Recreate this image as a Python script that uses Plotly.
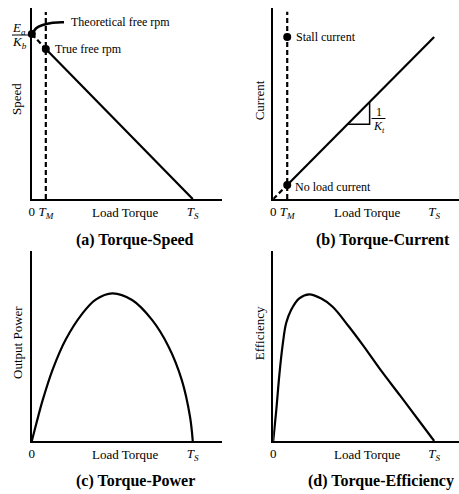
import plotly.graph_objects as go
import numpy as np

W, H = 459, 494
FONT = "Liberation Serif"

# ---------------- data (x = load torque as fraction of stall torque T_S) ----------------
T_S = 1.0
T_M = 0.087

# (a) Torque-Speed
speed_true_T = [T_M, T_S]
speed_true = [78.5, 0.0]
speed_theo_T = [0.0, T_M]
speed_theo = [86.4, 78.5]
theo_leader_x = [0.002, 0.027, 0.068, 0.13, 0.20]
theo_leader_y = [86.2, 89.4, 91.1, 92.3, 92.5]

# (b) Torque-Current
current_T = [T_M, T_S]
current_vals = [7.3, 84.8]
current_dash_T = [0.0, T_M]
current_dash = [0.0, 7.3]
stall_current = 84.8
slope_tri_x = [0.462, 0.599]

# (c) Torque-Power
power_T = [0.0, 0.027, 0.068, 0.13, 0.21, 0.315, 0.397, 0.5, 0.623, 0.747, 0.85, 0.932, 0.983, 1.0]
power_vals = [0.0, 8.8, 21.5, 37.5, 53.0, 66.8, 74.0, 77.3, 73.8, 63.4, 49.4, 31.9, 12.7, 0.0]

# (d) Torque-Efficiency
eff_T = [0.0, 0.019, 0.039, 0.06, 0.08, 0.111, 0.162, 0.224, 0.296, 0.369, 0.471, 0.556, 0.667, 0.79, 0.914, 1.0]
eff_vals = [0.0, 16.2, 35.4, 51.2, 61.6, 68.6, 74.7, 76.8, 74.7, 70.3, 59.8, 50.3, 37.2, 23.6, 9.7, 0.0]

# ---------------- figure ----------------
fig = go.Figure()
LW = 2.2
DASH = "5px,3px"

def line(x, y, ax, dash=None, width=LW):
    fig.add_trace(go.Scatter(x=x, y=y, mode="lines", xaxis="x" + ax, yaxis="y" + ax,
                             line=dict(color="black", width=width, dash=dash, shape="spline" if len(x) > 3 else "linear"),
                             cliponaxis=False, hoverinfo="skip", showlegend=False))

def dot(x, y, ax):
    fig.add_trace(go.Scatter(x=x, y=y, mode="markers", xaxis="x" + ax, yaxis="y" + ax,
                             marker=dict(color="black", size=8), cliponaxis=False,
                             hoverinfo="skip", showlegend=False))

# (a)
line(speed_true_T, speed_true, "")
line(speed_theo_T, speed_theo, "", dash=DASH)
line([T_M, T_M], [0, 97.9], "", dash=DASH)
line(theo_leader_x, theo_leader_y, "", width=2.6)
dot([speed_theo_T[0], T_M], [speed_theo[0], speed_true[0]], "")

# (b)
line(current_T, current_vals, "2")
line(current_dash_T, current_dash, "2", dash=DASH)
line([T_M, T_M], [0, 98.0], "2", dash=DASH)
slope = (current_vals[1] - current_vals[0]) / (current_T[1] - current_T[0])
tri_y0 = current_vals[0] + (slope_tri_x[0] - T_M) * slope
tri_y1 = current_vals[0] + (slope_tri_x[1] - T_M) * slope
line([slope_tri_x[0], slope_tri_x[1], slope_tri_x[1]], [tri_y0, tri_y0, tri_y1], "2", width=1.5)
dot([T_M, T_M], [stall_current, current_vals[0]], "2")

# (c)
line(power_T, power_vals, "3")
# (d)
line(eff_T, eff_vals, "4")

ax_common = dict(showline=True, linecolor="black", linewidth=1.6, showgrid=False, zeroline=False,
                 ticks="", fixedrange=True, tickfont=dict(family=FONT, size=13, color="black"))
ts_txt = "<i>T</i><sub><i>S</i></sub>"
tm_txt = "<i>T</i><sub><i>M</i></sub>"

def xd(p0, p1):
    return [p0 / W, p1 / W]

def yd(p_bottom, p_top):
    return [1 - p_bottom / H, 1 - p_top / H]

PX = 162.0   # pixels per T_S
PY = 1.91    # pixels per y unit

fig.update_layout(
    width=W, height=H, margin=dict(l=0, r=0, t=0, b=0),
    paper_bgcolor="white", plot_bgcolor="white", showlegend=False,
    xaxis=dict(ax_common, domain=xd(29, 220), range=[0, 191 / PX], anchor="y",
               tickvals=[0, T_M, T_S], ticktext=["0", tm_txt, ts_txt]),
    yaxis=dict(ax_common, domain=yd(199, 8), range=[0, 191 / PY], anchor="x", showticklabels=False),
    xaxis2=dict(ax_common, domain=xd(272, 459), range=[0, 187 / PX], anchor="y2",
                tickvals=[0, T_M, T_S], ticktext=["0", tm_txt, ts_txt]),
    yaxis2=dict(ax_common, domain=yd(199, 8), range=[0, 191 / PY], anchor="x2", showticklabels=False),
    xaxis3=dict(ax_common, domain=xd(29, 220), range=[0, 191 / PX], anchor="y3",
                tickvals=[0, T_S], ticktext=["0", ts_txt]),
    yaxis3=dict(ax_common, domain=yd(441, 251), range=[0, 190 / PY], anchor="x3", showticklabels=False),
    xaxis4=dict(ax_common, domain=xd(272, 459), range=[0, 187 / PX], anchor="y4",
                tickvals=[0, T_S], ticktext=["0", ts_txt]),
    yaxis4=dict(ax_common, domain=yd(441, 251), range=[0, 190 / PY], anchor="x4", showticklabels=False),
)

def ann(text, px, py, size=12, xanchor="center", bold=False, angle=0):
    fig.add_annotation(text=("<b>%s</b>" % text) if bold else text,
                       x=px / W, y=1 - py / H, xref="paper", yref="paper",
                       xanchor=xanchor, yanchor="middle", showarrow=False, textangle=angle,
                       font=dict(family=FONT, size=size, color="black"))

# panel (a)
ann("Theoretical free rpm", 66, 21.5, 12, "left")
ann("True free rpm", 50, 49, 12, "left")
ann("<i>E</i><sub><i>a</i></sub>", 16, 29, 13)
ann("<i>K</i><sub><i>b</i></sub>", 17, 42, 13)
fig.add_shape(type="line", xref="paper", yref="paper", x0=9 / W, x1=27 / W,
              y0=1 - 35 / H, y1=1 - 35 / H, line=dict(color="black", width=1))
ann("Speed", 13, 99, 13, angle=-90)
ann("Load Torque", 123, 212, 13)
ann("(a) Torque-Speed", 133, 240, 16, bold=True)

# panel (b)
ann("Stall current", 293, 37, 12, "left")
ann("No load current", 292, 187, 12, "left")
ann("1", 378, 112, 12)
fig.add_shape(type="line", xref="paper", yref="paper", x0=371 / W, x1=385 / W,
              y0=1 - 118.5 / H, y1=1 - 118.5 / H, line=dict(color="black", width=1))
ann("<i>K</i><sub><i>t</i></sub>", 378, 127, 12)
ann("Current", 258, 100, 13, angle=-90)
ann("Load Torque", 367, 212, 13)
ann("(b) Torque-Current", 382, 240, 16, bold=True)

# panel (c)
ann("Output Power", 14, 342, 13, angle=-90)
ann("Load Torque", 123, 454, 13)
ann("(c) Torque-Power", 133, 481, 16, bold=True)

# panel (d)
ann("Efficiency", 258, 333, 13, angle=-90)
ann("Load Torque", 367, 454, 13)
ann("(d) Torque-Efficiency", 380, 481, 16, bold=True)

fig.write_html("out.html", config={"displayModeBar": False},
               post_script="document.body.style.margin='0';document.body.style.overflow='hidden';")
